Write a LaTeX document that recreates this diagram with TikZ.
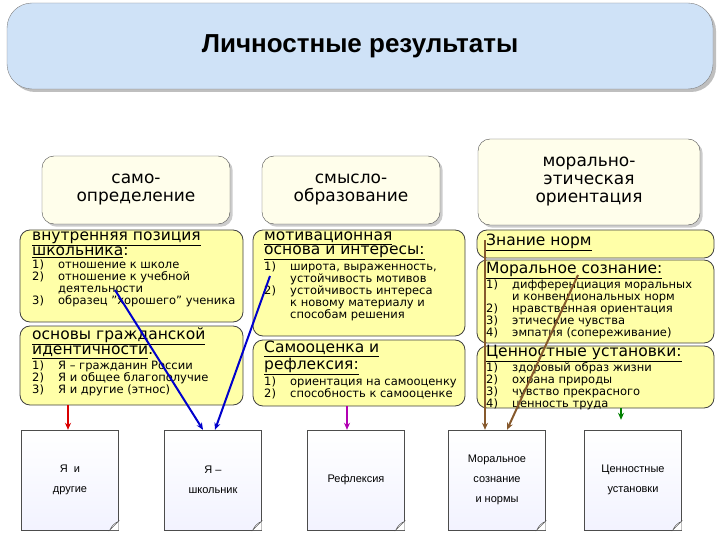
\documentclass[tikz,border=0pt]{standalone}
\usepackage{fontspec}
\setmainfont{DejaVu Sans}
\newfontfamily\tfont{Liberation Sans}
\usetikzlibrary{shadows,arrows.meta}
\definecolor{titlebg}{HTML}{CFE2F7}
\definecolor{ylw}{HTML}{FFFFA8}
\tikzset{
 hdr/.style={draw=black!70,fill=yellow!8,rounded corners=12pt,drop shadow={opacity=0.4},align=center,font=\fontsize{17}{18}\selectfont},
 yb/.style={draw=black!75,fill=ylw,rounded corners=10pt,line width=0.8pt},
 doc/.style={draw=black!70,top color=white,bottom color=cyan!5!blue!5,align=center,font=\tfont\fontsize{11}{20}\selectfont},
 arr/.style={line width=2pt,-{Stealth[length=7pt,width=6pt]}}
}
\newcommand{\hd}[1]{\underline{#1}}
\newcommand{\itm}[2]{\makebox[26pt][l]{#1}#2}
\newcommand{\hf}{\fontsize{15.5}{17}\selectfont}
\newcommand{\lf}{\fontsize{11.5}{12.5}\selectfont}
\begin{document}
\begin{tikzpicture}[x=1pt,y=-1pt]
\useasboundingbox (0,0) rectangle (720,540);
% title
\node[draw=black!50,fill=titlebg,rounded corners=25pt,minimum width=706pt,minimum height=86pt,drop shadow={opacity=0.5,shadow xshift=3pt,shadow yshift=-3pt},font=\tfont\bfseries\fontsize{26}{28}\selectfont] (title) at (360,46) {Личностные результаты};
% headers
\node[hdr,minimum width=188pt,minimum height=68pt] (h1) at (136,190) {само-\\определение};
\node[hdr,minimum width=178pt,minimum height=68pt] (h2) at (351,190) {смысло-\\образование};
\node[hdr,minimum width=222pt,minimum height=86pt] (h3) at (589,182) {морально-\\этическая\\ориентация};
% yellow boxes
\draw[yb] (20,230) rectangle (243,322);
\draw[yb] (20,326) rectangle (243,405);
\draw[yb] (253,230) rectangle (465,336);
\draw[yb] (253,340) rectangle (465,406);
\draw[yb] (477,230) rectangle (714,258);
\draw[yb] (477,260) rectangle (714,343);
\draw[yb] (477,346) rectangle (714,408);
\node[anchor=north west,align=left,inner sep=0] (t1) at (32,232) {\hf\hd{внутренняя позиция}\\\hf\hd{школьника}:\\[1pt]
\lf\itm{1)}{отношение к школе}\\\lf\itm{2)}{отношение к учебной}\\\lf\itm{}{деятельности}\\\lf\itm{3)}{образец "хорошего" ученика}};
\node[anchor=north west,align=left,inner sep=0] (t2) at (32,328) {\hf\hd{основы гражданской}\\\hf\hd{идентичности}:\\[1pt]
\lf\itm{1)}{Я – гражданин России}\\\lf\itm{2)}{Я и общее благополучие}\\\lf\itm{3)}{Я и другие (этнос)}};
\node[anchor=north west,align=left,inner sep=0] (t3) at (264,232) {\hf\hd{мотивационная}\\\hf\hd{основа и интересы:}\\[1pt]
\lf\itm{1)}{широта, выраженность,}\\\lf\itm{}{устойчивость мотивов}\\\lf\itm{2)}{устойчивость интереса}\\\lf\itm{}{к новому материалу и}\\\lf\itm{}{способам решения}};
\node[anchor=north west,align=left,inner sep=0] (t4) at (264,341) {\hf\hd{Самооценка и}\\\hf\hd{рефлексия:}\\[1pt]
\lf\itm{1)}{ориентация на самооценку}\\\lf\itm{2)}{способность к самооценке}};
\node[anchor=north west,align=left,inner sep=0] (t5) at (486,234) {\hf\hd{Знание норм}};
\node[anchor=north west,align=left,inner sep=0] (t6) at (486,262) {\hf\hd{Моральное сознание:}\\[0pt]
\lf\itm{1)}{дифференциация моральных}\\\lf\itm{}{и конвенциональных норм}\\\lf\itm{2)}{нравственная ориентация}\\\lf\itm{3)}{этические чувства}\\\lf\itm{4)}{эмпатия (сопереживание)}};
\node[anchor=north west,align=left,inner sep=0] (t7) at (486,345) {\hf\hd{Ценностные установки:}\\[0pt]
\lf\itm{1)}{здоровый образ жизни}\\\lf\itm{2)}{охрана природы}\\\lf\itm{3)}{чувство прекрасного}\\\lf\itm{4)}{ценность труда}};
% docs
\foreach \n/\x/\t in {d1/70/{Я \ и\\другие},d2/213/{Я –\\школьник},d3/356/{Рефлексия},d4/497/{Моральное\\сознание\\и нормы},d5/633/{Ценностные\\установки}}{
 \node[doc,minimum width=97pt,minimum height=100pt] (\n) at (\x,480) {\t};
 \fill[white] ([xshift=-9pt]\n.south east) -- (\n.south east) -- ([yshift=9pt]\n.south east) -- cycle;
 \draw[black!70,fill=white] ([xshift=-9pt]\n.south east) to[bend left=20] ([yshift=9pt]\n.south east) -- cycle;
}
% arrows
\coordinate (a1) at (68,405);
\coordinate (a2) at (115,290);
\coordinate (a3) at (270,276);
\coordinate (a4) at (347,406);
\coordinate (a5) at (485,240);
\coordinate (a6) at (578,275);
\coordinate (a7) at (621,408);
\draw[arr,red!85!black] (a1) -- (d1.north -| a1);
\draw[arr,blue!80!black] (a2) -- ([xshift=-10pt]d2.north);
\draw[arr,blue!80!black] (a3) -- ([xshift=2pt]d2.north);
\draw[arr,violet!60!magenta] (a4) -- (d3.north -| a4);
\draw[arr,brown!70!black] (a5) -- (d4.north -| a5);
\draw[arr,brown!70!black] (a6) -- ([xshift=10pt]d4.north);
\draw[arr,green!50!black] (a7) -- ([yshift=10pt]d5.north -| a7);
\end{tikzpicture}
\end{document}
